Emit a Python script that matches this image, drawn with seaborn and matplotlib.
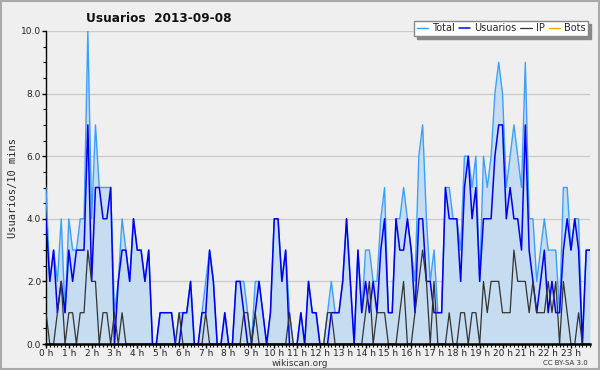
import numpy as np
import pandas as pd
import matplotlib
matplotlib.use("Agg")
import matplotlib.pyplot as plt
from matplotlib.ticker import MultipleLocator
import seaborn as sns

# =========================================
# Data: one value per 10 minutes (144 slots)
# =========================================
usuarios = [
    4, 2, 3, 1, 2, 1,   3, 2, 3, 3, 3, 7,   2, 5, 5, 4, 4, 5,   0, 2, 3, 3, 2, 4,
    3, 3, 2, 3, 0, 0,   1, 1, 1, 1, 0, 0,   1, 1, 2, 0, 0, 1,   1, 3, 2, 0, 0, 1,
    0, 0, 2, 2, 1, 0,   0, 1, 2, 1, 0, 1,   4, 4, 2, 3, 0, 0,   0, 1, 0, 2, 1, 1,
    0, 0, 0, 1, 1, 1,   2, 4, 2, 0, 3, 1,   2, 1, 2, 1, 3, 4,   1, 1, 4, 3, 3, 4,
    3, 1, 4, 4, 2, 2,   1, 1, 1, 5, 4, 4,   4, 2, 5, 6, 4, 5,   2, 4, 4, 4, 6, 7,
    7, 4, 5, 4, 4, 3,   7, 3, 2, 1, 2, 3,   1, 2, 1, 1, 3, 4,   3, 4, 3, 0, 3, 3,
]
ip = [
    1, 0, 0, 1, 2, 0,   1, 1, 0, 1, 1, 3,   2, 2, 0, 1, 1, 0,   1, 0, 1, 0, 0, 0,
    0, 0, 0, 0, 0, 0,   0, 0, 0, 0, 0, 1,   0, 0, 0, 0, 0, 0,   1, 0, 0, 0, 0, 0,
    0, 0, 0, 0, 1, 1,   0, 1, 0, 0, 0, 0,   0, 0, 0, 0, 1, 0,   0, 0, 0, 0, 0, 0,
    0, 0, 1, 1, 0, 0,   0, 0, 0, 0, 0, 0,   1, 2, 0, 1, 1, 1,   0, 0, 0, 1, 2, 0,
    0, 1, 2, 3, 2, 0,   2, 0, 0, 0, 1, 0,   0, 1, 1, 0, 1, 1,   0, 2, 1, 2, 2, 2,
    1, 1, 1, 3, 2, 2,   2, 1, 2, 1, 1, 1,   2, 1, 2, 0, 2, 1,   0, 0, 1, 0, 0, 0,
]
total = [
    5, 2, 3, 2, 4, 1,   4, 3, 3, 4, 4, 10,  4, 7, 5, 5, 5, 5,   1, 2, 4, 3, 2, 4,
    3, 3, 2, 3, 0, 0,   1, 1, 1, 1, 0, 1,   1, 1, 2, 0, 0, 1,   2, 3, 2, 0, 0, 1,
    0, 0, 2, 2, 2, 1,   0, 2, 2, 1, 0, 1,   4, 4, 2, 3, 1, 0,   0, 1, 0, 2, 1, 1,
    0, 0, 1, 2, 1, 1,   2, 4, 2, 0, 3, 1,   3, 3, 2, 2, 4, 5,   1, 1, 4, 4, 5, 4,
    3, 2, 6, 7, 4, 2,   3, 1, 1, 5, 5, 4,   4, 3, 6, 6, 5, 6,   2, 6, 5, 6, 8, 9,
    8, 5, 6, 7, 6, 5,   9, 4, 4, 2, 3, 4,   3, 3, 3, 1, 5, 5,   3, 4, 4, 0, 3, 3,
]
bots = [0] * 144

hour_labels = [f"{h} h" for h in range(24)]

df = pd.DataFrame({
    "slot": np.arange(len(total)),
    "Total": total,
    "Usuarios": usuarios,
    "IP": ip,
    "Bots": bots,
})

# =========================================
# Style
# =========================================
sns.set_theme(style="white")
bg = "#efefef"
plt.rcParams["font.family"] = ["DejaVu Sans"]

fig = plt.figure(figsize=(6.0, 3.7), dpi=100, facecolor=bg)
ax = fig.add_axes([46 / 600, 26 / 370, 544 / 600, 313 / 370])
ax.set_facecolor(bg)

# frame around the whole picture
fig.patches.append(plt.Rectangle((0.002, 0.003), 0.996, 0.994, transform=fig.transFigure,
                                 fill=False, edgecolor="#aaaaaa", linewidth=1.5))

ax.fill_between(df["slot"], df["Total"], color="#c6dcf0", zorder=1, linewidth=0)
sns.lineplot(data=df, x="slot", y="Bots", ax=ax, color="#ffa500", linewidth=1, label="Bots", zorder=1)
sns.lineplot(data=df, x="slot", y="Total", ax=ax, color="#3aa0ff", linewidth=1, label="Total", zorder=3)
sns.lineplot(data=df, x="slot", y="Usuarios", ax=ax, color="#0000ee", linewidth=1.1, label="Usuarios", zorder=4)
sns.lineplot(data=df, x="slot", y="IP", ax=ax, color="#333333", linewidth=0.9, label="IP", zorder=5)

ax.set_xlim(0, len(total) - 1)
ax.set_ylim(0, 10)

ax.set_xticks(np.arange(0, 144, 6))
ax.set_xticklabels(hour_labels)
ax.xaxis.set_minor_locator(MultipleLocator(1))
ax.set_yticks(np.arange(0, 11, 2))
ax.set_yticklabels([f"{v:.1f}" for v in range(0, 11, 2)])
ax.yaxis.set_minor_locator(MultipleLocator(0.5))
ax.tick_params(axis="both", which="major", direction="out", length=3, width=1,
               color="black", labelsize=6.5, pad=0.5, labelcolor="#222222")
ax.tick_params(axis="both", which="minor", direction="out", length=2.5, width=0.8, color="black")
ax.tick_params(axis="x", which="both", bottom=True)
ax.tick_params(axis="y", which="both", left=True)

ax.yaxis.grid(True, color="#cccccc", linewidth=1)
ax.set_axisbelow(True)
for s in ["top", "right"]:
    ax.spines[s].set_visible(False)
ax.spines["left"].set_color("black")
ax.spines["left"].set_linewidth(1)
ax.spines["bottom"].set_color("black")
ax.spines["bottom"].set_linewidth(1.8)
ax.spines["bottom"].set_zorder(6)

ax.set_xlabel("")
ax.set_ylabel("Usuarios/10 mins", fontsize=7.5, family="DejaVu Sans Mono", labelpad=2)

handles, labels = ax.get_legend_handles_labels()
order = [labels.index(n) for n in ["Total", "Usuarios", "IP", "Bots"]]
leg = ax.legend([handles[i] for i in order], [labels[i] for i in order],
                ncol=4, loc="upper right", bbox_to_anchor=(0.997, 1.032), fontsize=7,
                frameon=True, fancybox=False, shadow={"color": "#888888", "alpha": 1},
                handlelength=1.2, handletextpad=0.4, columnspacing=0.4,
                borderpad=0.25, borderaxespad=0)
leg.get_frame().set_edgecolor("#888888")
leg.get_frame().set_facecolor("white")
leg.get_frame().set_linewidth(1)

fig.text(86 / 600, 1 - 18 / 370, "Usuarios  2013-09-08", fontsize=8.7, fontweight="bold",
         ha="left", va="center", color="#111111")
fig.text(300 / 600, 1 - 363 / 370, "wikiscan.org", fontsize=6.5, ha="center", va="center",
         color="#333333")
fig.text(588 / 600, 1 - 363 / 370, "CC BY-SA 3.0", fontsize=5, ha="right", va="center",
         color="#333333")

fig.savefig("out.png", dpi=100, facecolor=bg)
